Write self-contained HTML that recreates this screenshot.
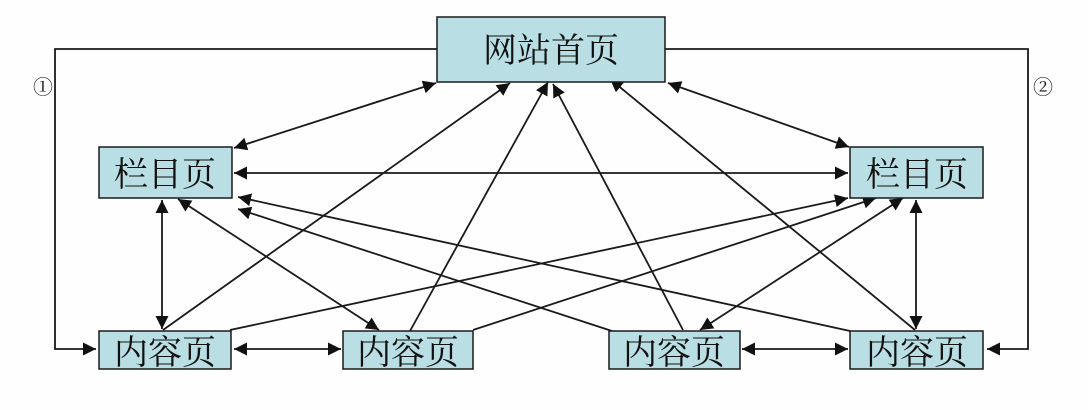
<!DOCTYPE html>
<html><head><meta charset="utf-8"><style>
html,body{margin:0;padding:0;background:#fff;}
svg{display:block;}
text{font-family:"Liberation Serif","Noto Serif CJK SC",serif;fill:#111;}
</style></head><body>
<svg width="1088" height="410" viewBox="0 0 1088 410" xmlns="http://www.w3.org/2000/svg">
<defs>
<marker id="b" viewBox="0 0 10 10" refX="10" refY="5" markerWidth="13" markerHeight="13" markerUnits="userSpaceOnUse" orient="auto-start-reverse">
<path d="M0,0 L10,5 L0,10 z" fill="#111"/></marker>
</defs>
<rect width="1088" height="410" fill="#fefefe"/>
<g stroke="#1a1a1a" stroke-width="1.8" fill="none">
<polyline points="437,49 55,49 55,349 96,349" marker-end="url(#b)"/>
<polyline points="665,49 1028,49 1028,349 987,349" marker-end="url(#b)"/>
<line x1="234" y1="148" x2="436" y2="83" marker-start="url(#b)" marker-end="url(#b)"/>
<line x1="668" y1="83" x2="849" y2="147" marker-start="url(#b)" marker-end="url(#b)"/>
<line x1="234" y1="173" x2="848" y2="173" marker-start="url(#b)" marker-end="url(#b)"/>
<line x1="162" y1="200" x2="162" y2="329" marker-start="url(#b)" marker-end="url(#b)"/>
<line x1="916" y1="200" x2="916" y2="329" marker-start="url(#b)" marker-end="url(#b)"/>
<line x1="234" y1="349" x2="341" y2="349" marker-start="url(#b)" marker-end="url(#b)"/>
<line x1="742" y1="349" x2="848" y2="349" marker-start="url(#b)" marker-end="url(#b)"/>
<line x1="163" y1="330" x2="510" y2="83" marker-end="url(#b)"/>
<line x1="410" y1="331" x2="548" y2="82" marker-end="url(#b)"/>
<line x1="683" y1="330" x2="553" y2="84" marker-end="url(#b)"/>
<line x1="915" y1="330" x2="610" y2="79" marker-end="url(#b)"/>
<line x1="230" y1="330" x2="848" y2="198" marker-end="url(#b)"/>
<line x1="473" y1="330" x2="876" y2="198" marker-end="url(#b)"/>
<line x1="700" y1="330" x2="903" y2="198" marker-start="url(#b)" marker-end="url(#b)"/>
<line x1="178" y1="199" x2="379" y2="330" marker-start="url(#b)" marker-end="url(#b)"/>
<line x1="850" y1="331" x2="238" y2="197" marker-end="url(#b)"/>
<line x1="612" y1="331" x2="238" y2="209" marker-end="url(#b)"/>
</g>
<g fill="#b9dee3" stroke="#1a1a1a" stroke-width="1.5">
<rect x="437" y="17" width="228" height="65"/>
<rect x="99" y="147" width="133" height="51"/>
<rect x="850" y="147" width="133" height="51"/>
<rect x="99" y="331" width="132" height="38"/>
<rect x="343" y="331" width="130" height="38"/>
<rect x="609" y="331" width="131" height="38"/>
<rect x="850" y="331" width="133" height="38"/>
</g>
<g font-size="34" text-anchor="middle">
<text x="551" y="62">网站首页</text>
<text x="165" y="186">栏目页</text>
<text x="917" y="186">栏目页</text>
<text x="165" y="364">内容页</text>
<text x="408" y="364">内容页</text>
<text x="674" y="364">内容页</text>
<text x="917" y="364">内容页</text>
</g>
<text x="43" y="94" font-size="20" text-anchor="middle">①</text>
<text x="1043" y="94" font-size="20" text-anchor="middle">②</text>
</svg>
</body></html>
